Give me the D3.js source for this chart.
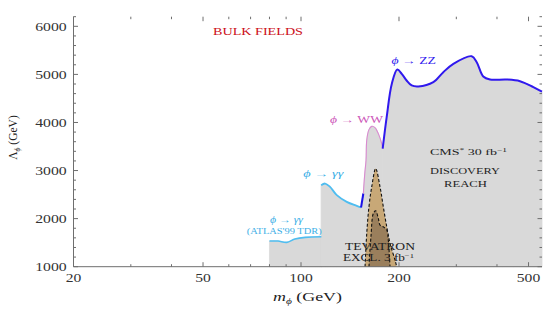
<!DOCTYPE html>
<html><head><meta charset="utf-8">
<script src="https://cdn.jsdelivr.net/npm/d3@7"></script>
<style>body{margin:0;background:#fff}svg{display:block}</style>
</head><body>
<svg id="c" width="545" height="310"></svg>
<script>
// ---- data ----
const atlasMass  = [80, 85, 90.4, 95.8, 103, 115.5];
const atlasReach = [1533, 1533, 1506, 1575, 1610, 1622];
const gamMass  = [115.3, 118.6, 122.8, 128.8, 138.2, 148.3, 152.9];
const gamReach = [2695, 2730, 2660, 2488, 2349, 2266, 2232];
const mixMass  = [152.9, 155.4];
const mixReach = [2232, 2523];
const wwMass  = [155.4, 157, 158.4, 159.2, 161.7, 164.9, 168.8, 172.8, 177, 178.2];
const wwReach = [2523, 2938, 3214, 3629, 3851, 3919, 3892, 3768, 3560, 3456];
const zzMass  = [178.2, 183.3, 190.1, 197.6, 203.9, 211.1, 218.8, 229.4, 255, 273.6, 293.8, 334.5, 346.6, 363, 380.7, 428.5, 470.7, 517.4, 550];
const zzReach = [3456, 4112, 4805, 5101, 5012, 4873, 4770, 4749, 4838, 5046, 5220, 5378, 5253, 4956, 4894, 4894, 4859, 4734, 4640];
const tevOutMass  = [157.3, 159.2, 161.7, 164.9, 169.6, 174.9, 179, 183.4, 187.7, 194.4, 196.8];
const tevOutReach = [1000, 1693, 2245, 2660, 3041, 2660, 2245, 1830, 1485, 1139, 1000];
const tevInMass  = [161.7, 164, 166.8, 169.6, 172.8, 174.9, 179, 183.4, 185.4, 187.7];
const tevInReach = [1000, 1622, 2108, 2162, 2004, 1865, 1830, 1761, 1554, 1000];
const xMajor = [20, 50, 100, 200, 500];
const xMinor = [30, 40, 60, 70, 80, 90, 300, 400];
const yMajor = [1000, 2000, 3000, 4000, 5000, 6000];
const yMinor = [1200,1400,1600,1800,2200,2400,2600,2800,3200,3400,3600,3800,4200,4400,4600,4800,5200,5400,5600,5800,6200];

// ---- scales ----
const x = d3.scaleLog().domain([20, 550]).range([73.5, 542]);
const y = d3.scaleLinear().domain([1000, 6200]).range([266.7, 16.7]);
const svg = d3.select('#c');
const FONT = '"Liberation Serif","Times New Roman",serif';
const zip = (a, b) => a.map((m, i) => [m, b[i]]);

const area = d3.area().x(d => x(d[0])).y0(y(1000)).y1(d => y(d[1])).curve(d3.curveCatmullRom.alpha(0.5));
const line = d3.line().x(d => x(d[0])).y(d => y(d[1])).curve(d3.curveCatmullRom.alpha(0.5));

const segs = [
  {m: atlasMass, v: atlasReach, c: '#4fbdf0', w: 1.6},
  {m: gamMass, v: gamReach, c: '#4fbdf0', w: 1.8},
  {m: mixMass, v: mixReach, c: '#1a12e8', w: 2},
  {m: wwMass, v: wwReach, c: '#d98ad0', w: 1.1},
  {m: zzMass, v: zzReach, c: '#3019ee', w: 2}
];
// gray reach fill
segs.forEach(s => {
  svg.append('path').attr('d', area(zip(s.m, s.v)))
    .attr('fill', '#d9d9d9').attr('stroke', '#d9d9d9').attr('stroke-width', 0.8);
});

// tevatron exclusion
function tev(m, v, fill) {
  const pts = zip(m, v);
  svg.append('path').attr('d', line(pts) + 'Z').attr('fill', fill).attr('stroke', 'none');
  svg.append('path').attr('d', line(pts)).attr('fill', 'none')
    .attr('stroke', '#111').attr('stroke-width', 1.1).attr('stroke-dasharray', '3,2');
}
tev(tevOutMass, tevOutReach, '#c8a877');
tev(tevInMass, tevInReach, '#9a7f5c');

// curves
segs.forEach(s => {
  svg.append('path').attr('d', line(zip(s.m, s.v)))
    .attr('fill', 'none').attr('stroke', s.c).attr('stroke-width', s.w).attr('stroke-linejoin', 'round');
});

// ---- frame / ticks ----
const AX = '#6e6e6e';
const x0 = x.range()[0], x1 = x.range()[1], yb = y.range()[0], yt = y.range()[1];
svg.append('line').attr('x1', x0).attr('x2', x1).attr('y1', yb).attr('y2', yb).attr('stroke', AX).attr('stroke-width', 1);
svg.append('line').attr('x1', x0).attr('x2', x0).attr('y1', yb).attr('y2', yt).attr('stroke', AX).attr('stroke-width', 1);
function xt(v, len) {
  svg.append('line').attr('x1', x(v)).attr('x2', x(v)).attr('y1', yb).attr('y2', yb - len).attr('stroke', AX);
  svg.append('line').attr('x1', x(v)).attr('x2', x(v)).attr('y1', yt).attr('y2', yt + len).attr('stroke', AX);
}
function ytk(v, len) {
  svg.append('line').attr('x1', x0).attr('x2', x0 + len).attr('y1', y(v)).attr('y2', y(v)).attr('stroke', AX);
  svg.append('line').attr('x1', x1).attr('x2', x1 - len).attr('y1', y(v)).attr('y2', y(v)).attr('stroke', AX);
}
xMajor.forEach(v => xt(v, 4.5)); xMinor.forEach(v => xt(v, 2.5));
yMajor.forEach(v => ytk(v, 4.5)); yMinor.forEach(v => ytk(v, 2.5));

function txt(px, py, s, size, len, color, anchor) {
  const t = svg.append('text').attr('x', px).attr('y', py)
    .attr('font-family', FONT).attr('font-size', size).attr('fill', color || '#222')
    .attr('text-anchor', anchor || 'start');
  if (len) t.attr('textLength', len).attr('lengthAdjust', 'spacingAndGlyphs');
  if (typeof s === 'string') t.text(s); else s(t);
  return t;
}
xMajor.forEach(v => txt(x(v), 281.7, String(v), 12, String(v).length * 7.8, '#333', 'middle'));
yMajor.forEach(v => txt(66.7, y(v) + 4.5, String(v), 12, 31.5, '#333', 'end'));

// axis titles
txt(273, 301, t => {
  t.append('tspan').attr('font-style', 'italic').text('m');
  t.append('tspan').attr('font-size', 8).attr('dy', 2.5).attr('font-style', 'italic').text('ϕ');
  t.append('tspan').attr('dy', -2.5).text('  (GeV)');
}, 12.5, 69, '#222');
svg.append('text').attr('transform', 'translate(17,137.5) rotate(-90)')
  .attr('font-family', FONT).attr('font-size', 11.5).attr('fill', '#222').attr('text-anchor', 'middle')
  .call(t => {
    t.append('tspan').text('Λ');
    t.append('tspan').attr('font-size', 7.5).attr('dy', 2.5).attr('font-style', 'italic').text('ϕ');
    t.append('tspan').attr('dy', -2.5).text(' (GeV)');
  });

// annotations
txt(213, 34.5, 'BULK FIELDS', 11, 90, '#cc1020');
txt(391.5, 64.3, t => {
  t.append('tspan').attr('font-style', 'italic').text('ϕ');
  t.append('tspan').text(' → ZZ');
}, 10, 44.5, '#3019ee');
txt(330, 122.7, t => {
  t.append('tspan').attr('font-style', 'italic').text('ϕ');
  t.append('tspan').text(' → WW');
}, 10, 53, '#cc55b8');
txt(303.3, 176.7, t => {
  t.append('tspan').attr('font-style', 'italic').text('ϕ → γγ');
}, 10, 40, '#3aaee6');
txt(270, 223.2, t => {
  t.append('tspan').attr('font-style', 'italic').text('ϕ → γγ');
}, 10, 33, '#3aaee6');
txt(246.7, 234, "(ATLAS'99 TDR)", 7.5, 75, '#3aaee6');
txt(430, 155, t => {
  t.append('tspan').text('CMS');
  t.append('tspan').attr('font-size', 6).attr('dy', -3).text('*');
  t.append('tspan').attr('dy', 3).text('   30 fb');
  t.append('tspan').attr('font-size', 6).attr('dy', -3.5).text('−1');
}, 9, 77, '#222');
txt(430, 174.3, 'DISCOVERY', 9, 70, '#222');
txt(444, 186.7, 'REACH', 9, 43, '#222');
txt(345, 250, 'TEVATRON', 10, 70, '#222');
txt(343, 261, t => {
  t.append('tspan').text('EXCL.  3 fb');
  t.append('tspan').attr('font-size', 6.5).attr('dy', -3.5).text('−1');
}, 10, 71, '#222');
</script>
</body></html>
